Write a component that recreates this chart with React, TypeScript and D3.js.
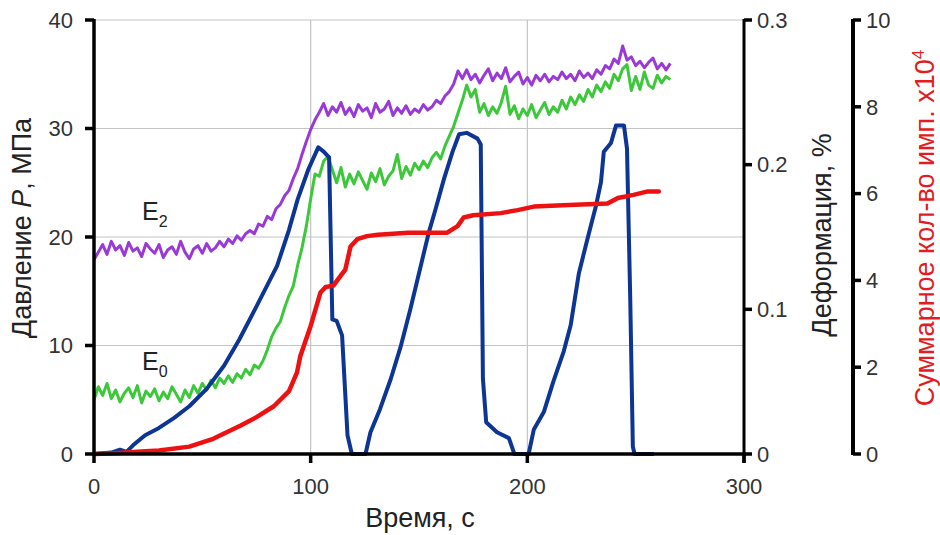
import React from "react";
import * as d3 from "d3";

// ---------- data ----------
// E2 and E0 traces, left axis units (MPa), sampled every 2 s from t = 0
const E_STEP = 2;
const e2Values = [
  17.9, 18.6, 19.3, 18.4, 19.6, 18.8, 19.2, 18.3, 19.5, 18.7, 19.0, 18.2, 19.4, 18.9, 18.5, 19.3, 18.1, 18.8,
  19.1, 18.4, 19.6, 18.6, 18.0, 18.9, 19.2, 18.5, 19.4, 18.7, 19.0, 19.6, 19.1, 19.8, 19.4, 20.1, 19.7, 20.3,
  20.6, 20.3, 21.2, 21.0, 21.9, 21.6, 22.6, 23.0, 23.8, 24.3, 25.4, 26.3, 27.6, 28.8, 29.9, 30.8, 31.5,
  32.3, 31.2, 32.0, 31.5, 32.4, 31.3, 31.9, 31.1, 32.2, 31.6, 31.9, 31.0, 32.3, 31.5, 31.8, 32.5, 31.2, 31.9,
  31.4, 32.1, 31.3, 31.8, 31.5, 32.2, 31.7,
  32.0, 32.6, 32.3, 33.0, 33.4, 34.1, 35.3, 34.6,
  35.4, 34.5, 35.0, 34.2, 34.9, 35.5, 34.4, 35.1, 34.6, 35.6, 34.3, 34.8, 35.2, 34.1, 34.7, 34.0, 34.9, 34.4,
  35.0, 34.3, 34.8, 34.5, 35.2, 34.6, 35.0, 34.4, 35.3, 34.7, 35.1, 34.6, 35.4, 35.0, 35.8,
  35.5, 36.4, 36.0, 37.6, 36.3, 36.6, 35.8, 36.2, 35.6, 36.1, 36.5, 35.5, 36.0, 35.4, 36.0,
];
const e0Values = [
  5.0, 6.2, 5.4, 6.5, 5.1, 5.9, 4.8, 5.6, 6.1, 5.2, 6.3, 4.7, 5.8, 5.3, 6.0, 4.9, 5.7, 5.1, 6.2, 5.5, 4.8,
  5.9, 5.2, 6.3, 5.6, 6.5, 5.9, 6.8,
  6.1, 7.0, 6.5, 7.2, 6.6, 7.4, 7.0, 7.8, 7.3, 8.2, 7.9, 8.6, 9.6,
  10.8, 11.6, 12.2, 13.5, 14.6, 15.5, 17.4, 19.0, 21.0, 23.5, 25.8, 25.6, 27.0,
  27.4, 26.2, 25.0, 26.4, 24.6, 25.8, 24.9, 26.0, 25.2, 24.4, 25.9, 25.1, 26.3, 24.8, 25.6, 26.1, 27.6, 25.4,
  26.5, 25.7, 26.8, 26.2,
  27.0, 26.4, 27.3, 27.8, 27.2, 28.4, 29.3, 30.2,
  31.4, 32.6, 34.0, 32.9,
  33.6, 31.5, 32.3, 31.2, 32.0, 31.4, 32.4, 33.9, 31.3, 32.1, 30.9, 31.8, 31.2, 32.2, 31.0, 31.7, 32.4, 31.3,
  32.0, 31.5, 32.6, 31.8, 32.9, 32.2, 33.1, 32.5, 33.6, 32.9, 34.0,
  33.4, 34.3, 33.7, 35.0, 34.4, 35.5, 35.9, 33.5, 34.8, 33.6, 35.2, 34.0, 33.7, 34.9, 34.2, 34.8, 34.5,
];

// Deformation (%), blue
const defTime = [
  0, 8, 12, 15, 18, 23.6, 30, 37, 44, 52, 60, 67, 75, 84.5, 90, 94, 99, 103.5, 106, 108.5, 110, 112, 114.5,
  117, 119, 125.3, 127.6, 132, 137, 141.5, 146, 150, 154.5, 157.6, 161.5, 165.5, 168.5, 172, 177, 178.5,
  179.5, 181, 186, 191.5, 194, 200.6, 203, 207.6, 212, 216.8, 220, 223.8, 227.8, 231.6, 234, 235.3, 238.6,
  240.9, 244.6, 246, 247.5, 248.7, 249.5, 258.4,
];
const defValue = [
  0, 0.001, 0.003, 0.0015, 0.006, 0.013, 0.018, 0.025, 0.033, 0.045, 0.061, 0.079, 0.102, 0.13, 0.155, 0.176,
  0.197, 0.212, 0.209, 0.205, 0.093, 0.092, 0.082, 0.013, 0, 0, 0.015, 0.031, 0.052, 0.074, 0.1, 0.125, 0.153,
  0.169, 0.19, 0.209, 0.221, 0.222, 0.218, 0.214, 0.052, 0.022, 0.015, 0.011, 0, 0, 0.017, 0.029, 0.05,
  0.071, 0.089, 0.125, 0.149, 0.171, 0.188, 0.209, 0.215, 0.227, 0.227, 0.211, 0.107, 0.005, 0, 0,
];

// Cumulative count (x10^4), red
const cntTime = [
  0, 10, 20, 30, 44, 55, 67.5, 75, 83, 90, 93.7, 95.2, 100, 104.5, 107, 110.5, 113.7, 116, 118.4, 121.5, 126,
  131, 145, 163, 167.8, 170.6, 175, 187.7, 195.5, 203, 211, 225, 237, 241.8, 249, 255.6, 260.7,
];
const cntValue = [
  0, 0.02, 0.05, 0.08, 0.17, 0.35, 0.65, 0.85, 1.1, 1.45, 1.88, 2.25, 2.95, 3.72, 3.85, 3.88, 4.1, 4.25, 4.78,
  4.95, 5.02, 5.05, 5.1, 5.1, 5.25, 5.45, 5.5, 5.55, 5.62, 5.7, 5.72, 5.75, 5.77, 5.9, 5.97, 6.05, 6.05,
];

const xTicks = [0, 100, 200, 300];
const pTicks = [0, 10, 20, 30, 40];
const dTicks = [0, 0.1, 0.2, 0.3];
const cTicks = [0, 2, 4, 6, 8, 10];

// ---------- layout ----------
const W = 940;
const H = 535;
const X0 = 94;
const X1 = 744;
const YB = 454;
const YT = 20;
const AX3 = 853;
const FONT = "Arial, 'Liberation Sans', sans-serif";

const x = d3.scaleLinear().domain([0, 300]).range([X0, X1]);
const yP = d3.scaleLinear().domain([0, 40]).range([YB, YT]);
const yD = d3.scaleLinear().domain([0, 0.3]).range([YB, YT]);
const yC = d3.scaleLinear().domain([0, 10]).range([YB, YT]);

const seriesLine = (vals: number[]) =>
  d3
    .line<number>()
    .x((_, i) => x(i * E_STEP))
    .y((d) => yP(d))(vals) as string;

const pairLine = (ts: number[], vs: number[], ys: d3.ScaleLinear<number, number>) =>
  d3
    .line<number>()
    .x((t) => x(t))
    .y((_, i) => ys(vs[i]))(ts) as string;

export default function App() {
  const tickColor = "#333";
  return (
    <svg
      width={W}
      height={H}
      viewBox={`0 0 ${W} ${H}`}
      style={{ position: "absolute", left: 0, top: 0, background: "#fff" }}
      fontFamily={FONT}
    >
      <rect x={0} y={0} width={W} height={H} fill="#fff" />
      {/* grid */}
      {pTicks.filter((t) => t > 0).map((t) => (
        <line key={"gh" + t} x1={X0} x2={X1} y1={yP(t)} y2={yP(t)} stroke="#c4c4c4" strokeWidth={1.2} />
      ))}
      {xTicks.filter((t) => t > 0 && t < 300).map((t) => (
        <line key={"gv" + t} x1={x(t)} x2={x(t)} y1={YT} y2={YB} stroke="#c4c4c4" strokeWidth={1.2} />
      ))}

      {/* series */}
      <path d={seriesLine(e2Values)} fill="none" stroke="#9a3ad6" strokeWidth={3} strokeLinejoin="round" />
      <path d={seriesLine(e0Values)} fill="none" stroke="#3cc83a" strokeWidth={3} strokeLinejoin="round" />
      <path d={pairLine(defTime, defValue, yD)} fill="none" stroke="#0d3594" strokeWidth={4} strokeLinejoin="round" />
      <path d={pairLine(cntTime, cntValue, yC)} fill="none" stroke="#ee1111" strokeWidth={4.5} strokeLinejoin="round" strokeLinecap="round" />

      {/* left axis */}
      <line x1={X0} x2={X0} y1={YT - 1} y2={YB + 2} stroke="#000" strokeWidth={3.5} />
      {pTicks.map((t) => (
        <g key={"lp" + t}>
          <line x1={X0 - 9} x2={X0} y1={yP(t)} y2={yP(t)} stroke="#000" strokeWidth={3.5} />
          <text x={X0 - 21} y={yP(t)} dy="0.35em" textAnchor="end" fontSize={22} fill={tickColor}>
            {t}
          </text>
        </g>
      ))}
      {/* bottom axis */}
      <line x1={X0 - 2} x2={X1 + 2} y1={YB} y2={YB} stroke="#000" strokeWidth={3.5} />
      {xTicks.map((t) => (
        <g key={"bx" + t}>
          <line x1={x(t)} x2={x(t)} y1={YB} y2={YB + 9} stroke="#000" strokeWidth={3.5} />
          <text x={x(t)} y={YB + 40} textAnchor="middle" fontSize={22} fill={tickColor}>
            {t}
          </text>
        </g>
      ))}
      {/* deformation axis */}
      <line x1={X1} x2={X1} y1={YT - 1} y2={YB + 9} stroke="#000" strokeWidth={3} />
      {dTicks.map((t) => (
        <g key={"dd" + t}>
          <line x1={X1} x2={X1 + 8} y1={yD(t)} y2={yD(t)} stroke="#000" strokeWidth={3.5} />
          <text x={X1 + 13} y={yD(t)} dy="0.35em" textAnchor="start" fontSize={22} fill={tickColor}>
            {t === 0 ? "0" : t.toFixed(1)}
          </text>
        </g>
      ))}
      {/* count axis */}
      <line x1={AX3} x2={AX3} y1={YT - 1} y2={YB + 1} stroke="#000" strokeWidth={4} />
      {cTicks.map((t) => (
        <g key={"cc" + t}>
          <line x1={AX3} x2={AX3 + 8} y1={yC(t)} y2={yC(t)} stroke="#000" strokeWidth={3.5} />
          <text x={AX3 + 13} y={yC(t)} dy="0.35em" textAnchor="start" fontSize={22} fill={tickColor}>
            {t}
          </text>
        </g>
      ))}

      {/* axis titles */}
      <text x={420} y={527} textAnchor="middle" fontSize={27} fill="#222">
        Время, с
      </text>
      <text transform={`translate(31,228) rotate(-90)`} textAnchor="middle" fontSize={27} fill="#222">
        Давление <tspan fontStyle="italic">P</tspan>, МПа
      </text>
      <text transform={`translate(831,235) rotate(-90)`} textAnchor="middle" fontSize={27} fill="#222">
        Деформация, %
      </text>
      <text transform={`translate(934,228) rotate(-90)`} textAnchor="middle" fontSize={27} fill="#e31b23">
        Суммарное кол-во имп. x10<tspan dy="-10" fontSize={17}>4</tspan>
      </text>

      {/* series labels */}
      <text x={142} y={220} fontSize={25} fill="#222">
        E<tspan dy="7" fontSize={16}>2</tspan>
      </text>
      <text x={142} y={370} fontSize={25} fill="#222">
        E<tspan dy="7" fontSize={16}>0</tspan>
      </text>
    </svg>
  );
}
